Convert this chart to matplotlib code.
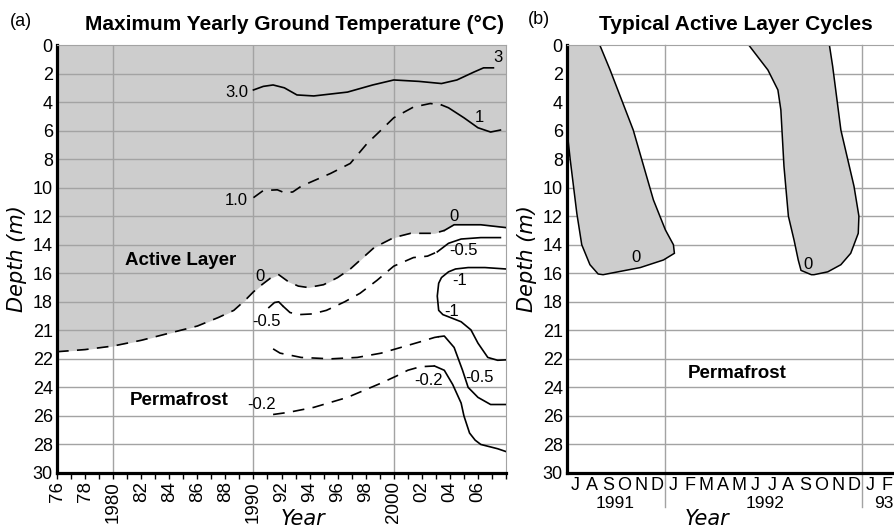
import matplotlib
matplotlib.use("Agg")
import matplotlib.pyplot as plt

plt.rcParams['font.family'] = ['Liberation Sans', 'DejaVu Sans']

# --- data (a): maximum yearly ground temperature contours ---
depth_ticks = [0, 2, 4, 6, 8, 10, 12, 14, 16, 18, 20, 22, 24, 26, 28, 30]
depth_labels = ['0', '2', '4', '6', '8', '10', '12', '14', '16', '18', '21', '22', '24', '26', '28', '30']
year_ticks = list(range(1976, 2009))
year_labels = ['76', '', '78', '', '1980', '', '82', '', '84', '', '86', '', '88', '', '1990', '', '92', '', '94', '',
               '96', '', '98', '', '2000', '', '02', '', '04', '', '06', '', '']

# 0 degC boundary (bottom of active layer)
zero_yr = [1976, 1978, 1980, 1982, 1984, 1986, 1987.5, 1988.6, 1989.4, 1990.0, 1990.6, 1991.2, 1991.8,
           1992.5, 1993.2, 1993.9, 1995.0, 1996.0, 1996.9, 1998.6, 2000.0, 2001.2, 2002.9, 2003.6, 2004.3,
           2006.2, 2008]
zero_d = [21.5, 21.35, 21.1, 20.7, 20.2, 19.7, 19.1, 18.6, 17.9, 17.3, 16.8, 16.35, 16.1,
          16.6, 16.9, 17.0, 16.8, 16.3, 15.7, 14.2, 13.5, 13.2, 13.2, 13.0, 12.6,
          12.6, 12.8]

c3_yr = [1990, 1990.7, 1991.4, 1992.2, 1993.1, 1994.3, 1996.7, 1998.5, 2000, 2001.8, 2003.4, 2004.5,
         2005.7, 2006.4, 2007.1]
c3_d = [3.15, 2.9, 2.8, 3.0, 3.5, 3.57, 3.3, 2.8, 2.45, 2.55, 2.7, 2.45, 1.9, 1.6, 1.6]

c1_dash_yr = [1990, 1990.7, 1991.7, 1992.2, 1992.8, 1993.4, 1995.5, 1996.9, 1998.1, 1999.1, 2000, 2001.4,
              2002.6, 2003.4]
c1_dash_d = [10.7, 10.2, 10.15, 10.35, 10.3, 9.9, 9.0, 8.3, 6.9, 5.96, 5.1, 4.35, 4.1, 4.2]
c1_solid_yr = [2003.4, 2003.9, 2005, 2006, 2006.9, 2007.6]
c1_solid_d = [4.2, 4.4, 5.1, 5.8, 6.1, 5.96]

m05a_arc_yr = [1991.1, 1991.5, 1991.8, 1992.1]
m05a_arc_d = [18.4, 18.05, 18.0, 18.3]
m05a_dash_yr = [1992.1, 1992.6, 1993.2, 1994.2, 1995.2, 1996.5, 1997.6, 1998.8, 2000, 2001.4, 2002.4, 2003.1]
m05a_dash_d = [18.3, 18.75, 18.9, 18.85, 18.6, 18.0, 17.4, 16.5, 15.5, 14.9, 14.8, 14.5]
m05a_solid_yr = [2003.1, 2003.9, 2004.8, 2006.2, 2007.6]
m05a_solid_d = [14.5, 13.9, 13.6, 13.5, 13.5]

m1_yr = [2008, 2006.5, 2005.3, 2004.4, 2003.9, 2003.4, 2003.2, 2003.1, 2003.2, 2003.5, 2003.9, 2004.8,
         2005.5, 2006.0, 2006.7, 2007.4, 2008]
m1_d = [15.7, 15.6, 15.6, 15.7, 15.9, 16.3, 16.7, 17.6, 18.6, 18.9, 19.05, 19.4, 19.97, 20.9, 21.9, 22.1, 22.07]

m05b_dash_yr = [1991.4, 1991.9, 1993.4, 1995.5, 1997.4, 1999.1, 2000.5, 2001.9, 2002.9, 2003.2]
m05b_dash_d = [21.3, 21.6, 21.9, 22.0, 21.9, 21.6, 21.2, 20.8, 20.5, 20.45]
m05b_solid_yr = [2003.2, 2003.6, 2004.3, 2004.9, 2005.3, 2006.0, 2006.9, 2008]
m05b_solid_d = [20.45, 20.4, 21.2, 22.8, 24.0, 24.7, 25.2, 25.2]

m02_dash_yr = [1991.4, 1992.5, 1994.3, 1996.7, 1999.1, 2000.2, 2001.0, 2001.9, 2002.9]
m02_dash_d = [25.9, 25.75, 25.4, 24.7, 23.7, 23.2, 22.8, 22.55, 22.5]
m02_solid_yr = [2002.9, 2003.6, 2004.2, 2004.8, 2005.0, 2005.4, 2005.8, 2006.2, 2007.4, 2008]
m02_solid_d = [22.5, 22.8, 23.8, 25.1, 26.0, 27.2, 27.7, 28.0, 28.3, 28.5]

# contour labels: text, year, depth
clab_text = ['3.0', '3', '1.0', '1', '0', '0', '-0.5', '-0.5', '-1', '-1', '-0.5', '-0.2', '-0.2']
clab_yr = [1989.6, 2007.4, 1989.6, 2006.1, 1990.5, 2004.3, 1990.9, 2005.0, 2004.7, 2004.1, 2006.1, 2002.5, 1990.6]
clab_d = [3.3, 0.9, 10.9, 5.1, 16.25, 12.0, 19.35, 14.4, 16.5, 18.7, 23.3, 23.5, 25.2]

# --- data (b): typical active layer cycles (months since Jan 1991) ---
month_pos = [6.5 + i for i in range(20)]
month_labels = ['J', 'A', 'S', 'O', 'N', 'D', 'J', 'F', 'M', 'A', 'M', 'J', 'J', 'A', 'S', 'O', 'N', 'D', 'J', 'F']
year_pos = [8.94, 18.1, 25.3]
year_names = ['1991', '1992', '93']

cyc91_x = [6.0, 8.0, 8.63, 10.04, 11.27, 12.0, 12.49, 12.55, 11.88, 10.47, 8.2, 7.9, 7.4, 6.9, 6.6, 6.2, 6.0, 6.0]
cyc91_d = [0, 0, 1.75, 5.96, 10.86, 12.96, 14.0, 14.6, 15.07, 15.6, 16.1, 16.05, 15.4, 14.0, 11.8, 8.06, 5.96, 0]
cyc92_x = [17.08, 22.0, 22.2, 22.7, 23.5, 23.8, 23.76, 23.3, 22.7, 21.9, 21.06, 20.9, 20.27, 20.1, 19.85,
           19.5, 19.23, 19.04, 18.86, 18.25, 17.08]
cyc92_d = [0, 0, 1.5, 5.96, 9.9, 12.0, 13.2, 14.6, 15.4, 15.9, 16.1, 16.1, 15.8, 15.07, 13.7,
           12.0, 8.5, 4.55, 3.15, 1.75, 0]

GREY = '#cdcdcd'
GRID = '#a3a3a3'
DASH = (0, (7, 5))

fig = plt.figure(figsize=(8.95, 5.29), dpi=100)
ax1 = fig.add_axes([0.0637, 0.1059, 0.5017, 0.809])
ax2 = fig.add_axes([0.6335, 0.1059, 0.3665, 0.809])

for ax in (ax1, ax2):
    ax.set_ylim(30, 0)
    ax.set_yticks(depth_ticks)
    ax.set_yticklabels(depth_labels, fontsize=13)
    ax.tick_params(axis='y', length=0, pad=3)
    for d in depth_ticks[1:-1]:
        ax.axhline(d, color=GRID, lw=1, zorder=1)
    ax.spines['left'].set_linewidth(2.3)
    ax.spines['bottom'].set_linewidth(2.3)
    ax.spines['top'].set_color(GRID)
    ax.spines['right'].set_color(GRID)

# (a)
ax1.set_xlim(1976, 2008)
ax1.fill_between(zero_yr, 0, zero_d, color=GREY, lw=0, zorder=0.5)
for y in [1980, 1990, 2000]:
    ax1.axvline(y, color=GRID, lw=1, zorder=1)
ax1.set_xticks(year_ticks)
ax1.set_xticklabels(year_labels, rotation=90, fontsize=13.5)
ax1.tick_params(axis='x', direction='out', length=4, width=1, pad=2)

kw = dict(color='black', lw=1.2, zorder=3)
ax1.plot(zero_yr[:24], zero_d[:24], ls=DASH, **kw)
ax1.plot(zero_yr[23:], zero_d[23:], **kw)
ax1.plot(c3_yr, c3_d, **kw)
ax1.plot(c1_dash_yr, c1_dash_d, ls=DASH, **kw)
ax1.plot(c1_solid_yr, c1_solid_d, **kw)
ax1.plot(m05a_arc_yr, m05a_arc_d, **kw)
ax1.plot(m05a_dash_yr, m05a_dash_d, ls=DASH, **kw)
ax1.plot(m05a_solid_yr, m05a_solid_d, **kw)
ax1.plot(m1_yr, m1_d, **kw)
ax1.plot(m05b_dash_yr, m05b_dash_d, ls=DASH, **kw)
ax1.plot(m05b_solid_yr, m05b_solid_d, **kw)
ax1.plot(m02_dash_yr, m02_dash_d, ls=DASH, **kw)
ax1.plot(m02_solid_yr, m02_solid_d, **kw)

for t, x, d in zip(clab_text, clab_yr, clab_d):
    ha = 'right' if t in ('3.0', '1.0') else 'center'
    ax1.text(x, d, t, fontsize=12, ha=ha, va='center', zorder=4)

ax1.text(1984.8, 15.1, 'Active Layer', fontsize=13.5, fontweight='bold', ha='center', va='center')
ax1.text(1984.7, 24.9, 'Permafrost', fontsize=13.5, fontweight='bold', ha='center', va='center')

# (b)
ax2.set_xlim(6, 26)
ax2.fill(cyc91_x, cyc91_d, facecolor=GREY, edgecolor='black', lw=1.1, zorder=2)
ax2.fill(cyc92_x, cyc92_d, facecolor=GREY, edgecolor='black', lw=1.1, zorder=2)
for m in [12, 24]:
    ax2.axvline(m, ymin=-0.08, ymax=1, color=GRID, lw=1, zorder=1, clip_on=False)
ax2.set_xticks(month_pos)
ax2.set_xticklabels(month_labels, fontsize=13)
ax2.tick_params(axis='x', length=0, pad=3)
for x, t in zip(year_pos, year_names):
    ax2.text(x, -0.072, t, transform=ax2.get_xaxis_transform(), fontsize=12.5, ha='center', va='center')
ax2.spines['right'].set_visible(False)
ax2.text(10.2, 14.9, '0', fontsize=12, ha='center', va='center', zorder=4)
ax2.text(20.7, 15.4, '0', fontsize=12, ha='center', va='center', zorder=4)
ax2.text(16.4, 23.0, 'Permafrost', fontsize=13.5, fontweight='bold', ha='center', va='center')

# titles and axis labels
fig.text(295 / 895, 1 - 25 / 529, 'Maximum Yearly Ground Temperature (°C)', fontsize=15,
         fontweight='bold', ha='center', va='center')
fig.text(736 / 895, 1 - 25 / 529, 'Typical Active Layer Cycles', fontsize=15,
         fontweight='bold', ha='center', va='center')
fig.text(21 / 895, 1 - 21 / 529, '(a)', fontsize=13, ha='center', va='center')
fig.text(539 / 895, 1 - 19 / 529, '(b)', fontsize=13, ha='center', va='center')
for x in (17, 527):
    fig.text(x / 895, 1 - 259 / 529, 'Depth (m)', fontsize=15, style='italic', family='DejaVu Sans',
             rotation=90, ha='center', va='center')
fig.text(303 / 895, 1 - 519 / 529, 'Year', fontsize=15, style='italic', family='DejaVu Sans',
         ha='center', va='center')
fig.text(707 / 895, 1 - 519 / 529, 'Year', fontsize=15, style='italic', family='DejaVu Sans',
         ha='center', va='center')

fig.savefig('out.png', dpi=100)
